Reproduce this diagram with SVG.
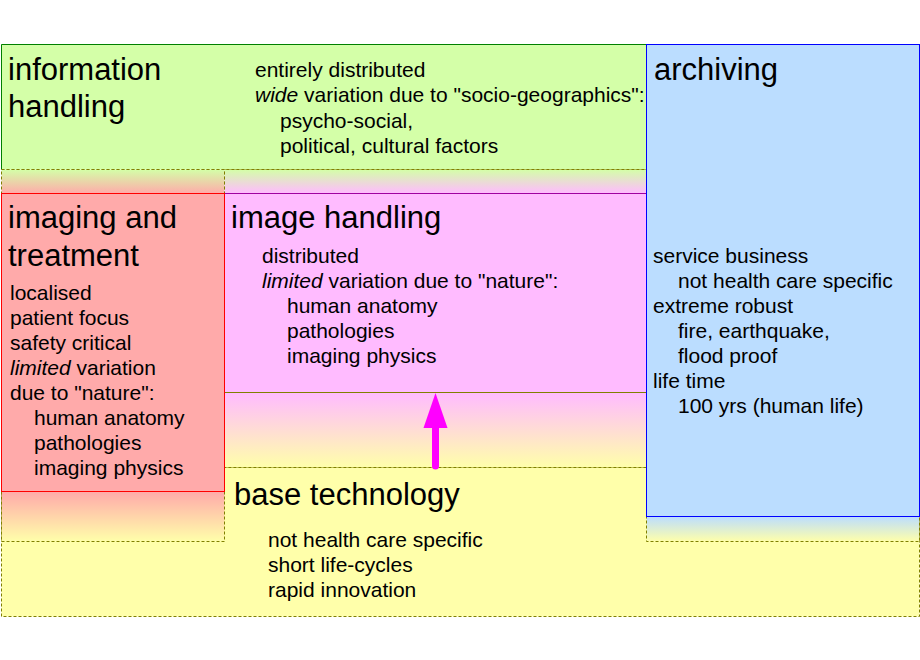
<svg xmlns="http://www.w3.org/2000/svg" width="920" height="660" viewBox="0 0 920 660">
<defs>
<style>
text{font-family:"Liberation Sans",Arial,sans-serif;fill:#000}
.t{font-size:31px}
.b{font-size:21px}
.i{font-style:italic}
.dash{stroke:#808000;stroke-width:1;stroke-dasharray:3,2}
</style>
<linearGradient id="gLeft" x1="0" y1="169.5" x2="0" y2="541.5" gradientUnits="userSpaceOnUse">
<stop offset="0" stop-color="#d4ffa8"/>
<stop offset="0.065" stop-color="#ffaaaa"/>
<stop offset="0.866" stop-color="#ffaaaa"/>
<stop offset="1" stop-color="#ffffaa"/>
</linearGradient>
<linearGradient id="gCenter" x1="0" y1="169.5" x2="0" y2="467.5" gradientUnits="userSpaceOnUse">
<stop offset="0" stop-color="#d4ffa8"/>
<stop offset="0.08" stop-color="#ffbbff"/>
<stop offset="0.75" stop-color="#ffbbff"/>
<stop offset="1" stop-color="#ffffaa"/>
</linearGradient>
<linearGradient id="gRight" x1="0" y1="516.5" x2="0" y2="541.5" gradientUnits="userSpaceOnUse">
<stop offset="0" stop-color="#bbddff"/>
<stop offset="1" stop-color="#ffffaa"/>
</linearGradient>
</defs>
<rect width="920" height="660" fill="#fff"/>

<g id="base-technology">
<rect x="1.5" y="467.5" width="918" height="149" fill="#ffffaa" class="dash"/>
<rect x="1.5" y="169.5" width="223" height="372" fill="url(#gLeft)" class="dash"/>
<rect x="224.5" y="169.5" width="422" height="298" fill="url(#gCenter)" class="dash"/>
<rect x="646.5" y="500.5" width="273" height="41" fill="url(#gRight)" class="dash"/>
<text class="t" x="234" y="505">base technology</text>
<text class="b" x="268" y="547">not health care specific</text>
<text class="b" x="268" y="572">short life-cycles</text>
<text class="b" x="268" y="597">rapid innovation</text>
</g>

<g id="information-handling">
<rect x="1" y="44" width="646" height="125.5" fill="#d4ffa8"/>
<path d="M1.5 169.5V44.5H646.5" fill="none" stroke="#008000"/>
<line x1="1.5" y1="169.5" x2="646.5" y2="169.5" class="dash"/>
<text class="t" x="8" y="80">information</text>
<text class="t" x="8" y="117">handling</text>
<text class="b" x="255" y="77">entirely distributed</text>
<text class="b" x="255" y="102"><tspan class="i">wide</tspan> variation due to "socio-geographics":</text>
<text class="b" x="280" y="128">psycho-social,</text>
<text class="b" x="280" y="153">political, cultural factors</text>
</g>

<g id="image-handling">
<rect x="224.5" y="193.5" width="422" height="199" fill="#ffbbff" stroke="none"/>
<line x1="224.5" y1="193.5" x2="646.5" y2="193.5" stroke="#a000a0"/>
<line x1="224.5" y1="392.5" x2="646.5" y2="392.5" stroke="#808000"/>
<text class="t" x="231" y="228">image handling</text>
<text class="b" x="262" y="263">distributed</text>
<text class="b" x="262" y="288"><tspan class="i">limited</tspan> variation due to "nature":</text>
<text class="b" x="287" y="313">human anatomy</text>
<text class="b" x="287" y="338">pathologies</text>
<text class="b" x="287" y="363">imaging physics</text>
</g>

<g id="imaging-and-treatment">
<rect x="1.5" y="193.5" width="223" height="298" fill="#ffaaaa" stroke="#ff0000"/>
<text class="t" x="8" y="228">imaging and</text>
<text class="t" x="8" y="266">treatment</text>
<text class="b" x="10" y="300">localised</text>
<text class="b" x="10" y="325">patient focus</text>
<text class="b" x="10" y="350">safety critical</text>
<text class="b" x="10" y="375"><tspan class="i">limited</tspan> variation</text>
<text class="b" x="10" y="400">due to "nature":</text>
<text class="b" x="34" y="425">human anatomy</text>
<text class="b" x="34" y="450">pathologies</text>
<text class="b" x="34" y="475">imaging physics</text>
</g>

<g id="archiving">
<rect x="646.5" y="44.5" width="273" height="472" fill="#bbddff" stroke="#0000ff"/>
<text class="t" x="654" y="80">archiving</text>
<text class="b" x="653" y="263">service business</text>
<text class="b" x="678" y="288">not health care specific</text>
<text class="b" x="653" y="313">extreme robust</text>
<text class="b" x="678" y="338">fire, earthquake,</text>
<text class="b" x="678" y="363">flood proof</text>
<text class="b" x="653" y="388">life time</text>
<text class="b" x="678" y="413">100 yrs (human life)</text>
</g>

<g id="connectors">
<line x1="435.5" y1="466" x2="435.5" y2="425" stroke="#ff00ff" stroke-width="7" stroke-linecap="round"/>
<polygon points="435.5,393 423.5,428 447.5,428" fill="#ff00ff"/>
</g>
</svg>
